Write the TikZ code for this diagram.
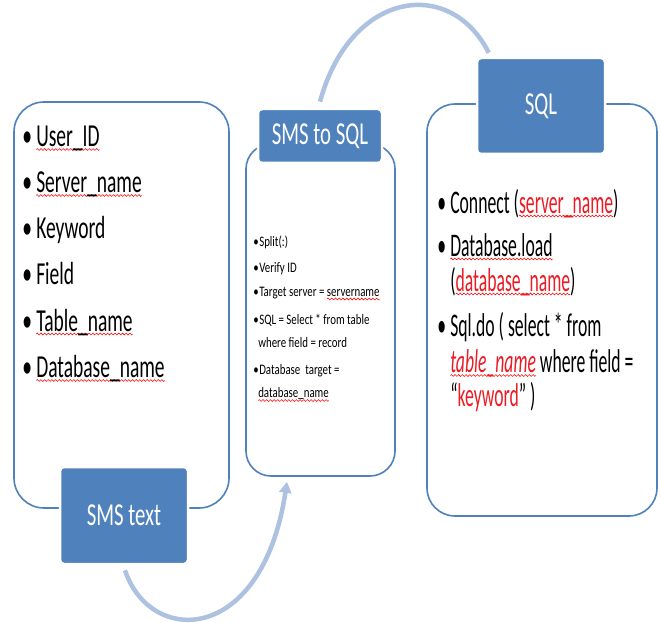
\documentclass[tikz,border=0pt]{standalone}
\usepackage{fontspec}
\setmainfont{Carlito}[FakeStretch=0.65]
\newfontfamily\leftfont{Carlito}[FakeStretch=0.61]
\newfontfamily\rightfont{Carlito}[FakeStretch=0.535]
\newfontfamily\midfont{Carlito}[FakeStretch=0.75]
\usetikzlibrary{arrows.meta}
\definecolor{hdr}{RGB}{79,129,189}
\definecolor{arcc}{RGB}{172,194,224}
\definecolor{txtred}{RGB}{235,28,36}
\newsavebox\wavebox
\newcommand\makewave{\sbox\wavebox{\begin{pgfpicture}
  \pgfpathrectangle{\pgfpoint{0pt}{-1pt}}{\pgfpoint{3.6pt}{2pt}}\pgfusepath{use as bounding box}
  \pgfsetlinewidth{0.55pt}\pgfsetstrokecolor{red}
  \pgfpathmoveto{\pgfpoint{0pt}{0pt}}
  \pgfpathsine{\pgfpoint{0.9pt}{0.9pt}}\pgfpathcosine{\pgfpoint{0.9pt}{-0.9pt}}
  \pgfpathsine{\pgfpoint{0.9pt}{-0.9pt}}\pgfpathcosine{\pgfpoint{0.9pt}{0.9pt}}
  \pgfusepath{stroke}
  \end{pgfpicture}}}
\newcommand\sq[1]{\leavevmode\setbox0\hbox{#1}\rlap{\raisebox{-4pt}{\hbox to \wd0{\xleaders\copy\wavebox\hfill}}}\box0}
\newcommand\bul[1]{\makebox[#1pt][l]{•}}
\begin{document}
\begin{tikzpicture}[x=1pt,y=-1pt,
  frame/.style={draw=hdr, line width=1.6pt, rounded corners=#1, fill=white},
  hdrbox/.style={fill=hdr, draw=white, line width=2.5pt, rounded corners=4pt, text=white,
    font=\fontsize{32}{36}\selectfont, inner sep=0pt},
  bigtxt/.style={anchor=base west, inner sep=0pt, font=\leftfont\fontsize{32}{36}\selectfont},
  righttxt/.style={anchor=base west, inner sep=0pt, font=\rightfont\fontsize{33}{36}\selectfont},
  smalltxt/.style={anchor=base west, inner sep=0pt, font=\midfont\fontsize{14.5}{18}\selectfont},
  arcline/.style={draw=arcc, line width=4.5pt}]
\makewave
\useasboundingbox (0,0) rectangle (661,622);
\fill[white] (0,0) rectangle (661,622);
% frames
\node[frame=30pt, minimum width=215, minimum height=406] (leftbox) at (121.5,304) {};
\node[frame=25pt, minimum width=149, minimum height=332] (midbox) at (320.5,309) {};
\node[frame=28pt, minimum width=230, minimum height=412] (rightbox) at (542,309) {};
% headers
\node[hdrbox, minimum width=128, minimum height=97] (smstext) at (124,514.5) {SMS text};
\node[hdrbox, minimum width=124, minimum height=54] (midhead) at (320,135) {SMS to SQL};
\node[hdrbox, minimum width=128, minimum height=96] (sqlhead) at (541,105) {SQL};
% left list
\node[bigtxt] (L1) at (22,145.5) {\bul{14}\sq{User\_ID}};
\node[bigtxt] (L2) at (22,191.5) {\bul{14}\sq{Server\_name}};
\node[bigtxt] (L3) at (22,237) {\bul{14}Keyword};
\node[bigtxt] (L4) at (22,283) {\bul{14}Field};
\node[bigtxt] (L5) at (22,330) {\bul{14}\sq{Table\_name}};
\node[bigtxt] (L6) at (22,376.5) {\bul{14}\sq{Database\_name}};
% middle list
\node[smalltxt] (M1) at (253,245.5) {\bul{6}Split(:)};
\node[smalltxt] (M2) at (253,271) {\bul{6}Verify ID};
\node[smalltxt] (M3) at (253,295) {\bul{6}Target server = \sq{servername}};
\node[smalltxt] (M4) at (253,323) {\bul{6}SQL = Select * from table};
\node[smalltxt] (M5) at (253,346.5) {\hspace*{5pt}where field = record};
\node[smalltxt] (M6) at (253,373) {\bul{6}Database\ \ target =};
\node[smalltxt] (M7) at (253,396.5) {\hspace*{5pt}\sq{database\_name}};
% right list
\node[righttxt] (R1) at (437,212) {\bul{13}Connect (\textcolor{txtred}{\sq{server\_name}})};
\node[righttxt] (R2) at (437,255) {\bul{13}\sq{Database.load}};
\node[righttxt] (R3) at (437,290) {\hspace*{13pt}(\textcolor{txtred}{\sq{database\_name}})};
\node[righttxt] (R4) at (437,335) {\bul{13}Sql.do ( select * from};
\node[righttxt] (R5) at (437,371.5) {\hspace*{13pt}\textcolor{txtred}{\itshape\sq{table\_name}} where field =};
\node[righttxt] (R6) at (437,405) {\hspace*{13pt}“\textcolor{txtred}{keyword}” )};
% connectors
\draw[arcline] ([shift={(0,-6)}]midhead.north) .. controls (350,-10) and (450,-25) .. ([shift={(13,-4)}]sqlhead.north west);
\draw[arcline, -{Triangle[length=11pt,width=12pt]}] ([shift={(1,5)}]smstext.south) .. controls (150,645) and (262,645) .. ([shift={(-33.5,5)}]midbox.south);
\end{tikzpicture}
\end{document}
